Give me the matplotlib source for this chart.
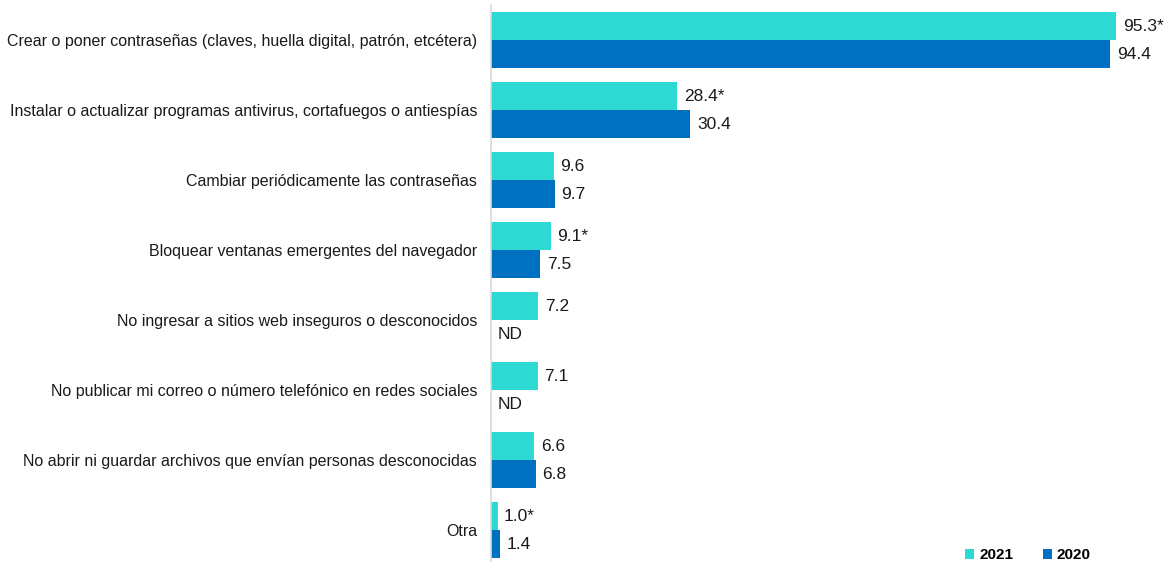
import matplotlib.pyplot as plt
import numpy as np

categories = [
    "Crear o poner contraseñas (claves, huella digital, patrón, etcétera)",
    "Instalar o actualizar programas antivirus, cortafuegos o antiespías",
    "Cambiar periódicamente las contraseñas",
    "Bloquear ventanas emergentes del navegador",
    "No ingresar a sitios web inseguros o desconocidos",
    "No publicar mi correo o número telefónico en redes sociales",
    "No abrir ni guardar archivos que envían personas desconocidas",
    "Otra",
]
values_2021 = [95.3, 28.4, 9.6, 9.1, 7.2, 7.1, 6.6, 1.0]
values_2020 = [94.4, 30.4, 9.7, 7.5, None, None, 6.8, 1.4]
labels_2021 = ["95.3*", "28.4*", "9.6", "9.1*", "7.2", "7.1", "6.6", "1.0*"]
labels_2020 = ["94.4", "30.4", "9.7", "7.5", "ND", "ND", "6.8", "1.4"]
series_names = ["2021", "2020"]

c2021 = "#2ED9D4"
c2020 = "#0070C0"

plt.rcParams['font.family'] = ['Liberation Sans', 'DejaVu Sans']

fig = plt.figure(figsize=(11.73, 5.62), dpi=100)
ax = fig.add_axes([491/1173, 0.0, 656/1173, 557/562])

y = np.arange(len(categories))
h = 0.4
v21 = [v for v in values_2021]
v20 = [v if v is not None else 0 for v in values_2020]
ax.barh(y - h/2, v21, height=h, color=c2021, label=series_names[0])
ax.barh(y + h/2, v20, height=h, color=c2020, label=series_names[1])

for i in range(len(categories)):
    ax.text(values_2021[i] + 1.0, y[i] - h/2, labels_2021[i], va='center', ha='left', fontsize=12.5, color='#1a1a1a')
    x20 = values_2020[i] if values_2020[i] is not None else 0
    ax.text(x20 + 1.0, y[i] + h/2, labels_2020[i], va='center', ha='left', fontsize=12.5, color='#1a1a1a')

ax.set_xlim(0, 100)
ax.set_ylim(len(categories) - 0.55, -0.5)
ax.set_yticks(y)
ax.set_yticklabels(categories, fontsize=11.5, color='#1a1a1a')
ax.tick_params(axis='y', length=0, pad=10)
ax.set_xticks([])
for s in ['top', 'right', 'bottom']:
    ax.spines[s].set_visible(False)
ax.spines['left'].set_color('#D9D9D9')
ax.spines['left'].set_linewidth(1.2)

leg = ax.legend(loc='lower right', bbox_to_anchor=(0.935, -0.025), ncol=2, frameon=False,
                handlelength=0.6, handleheight=0.6, handletextpad=0.3, columnspacing=1.95,
                prop={'weight': 'bold', 'size': 11})

fig.savefig("out.png", dpi=100)
